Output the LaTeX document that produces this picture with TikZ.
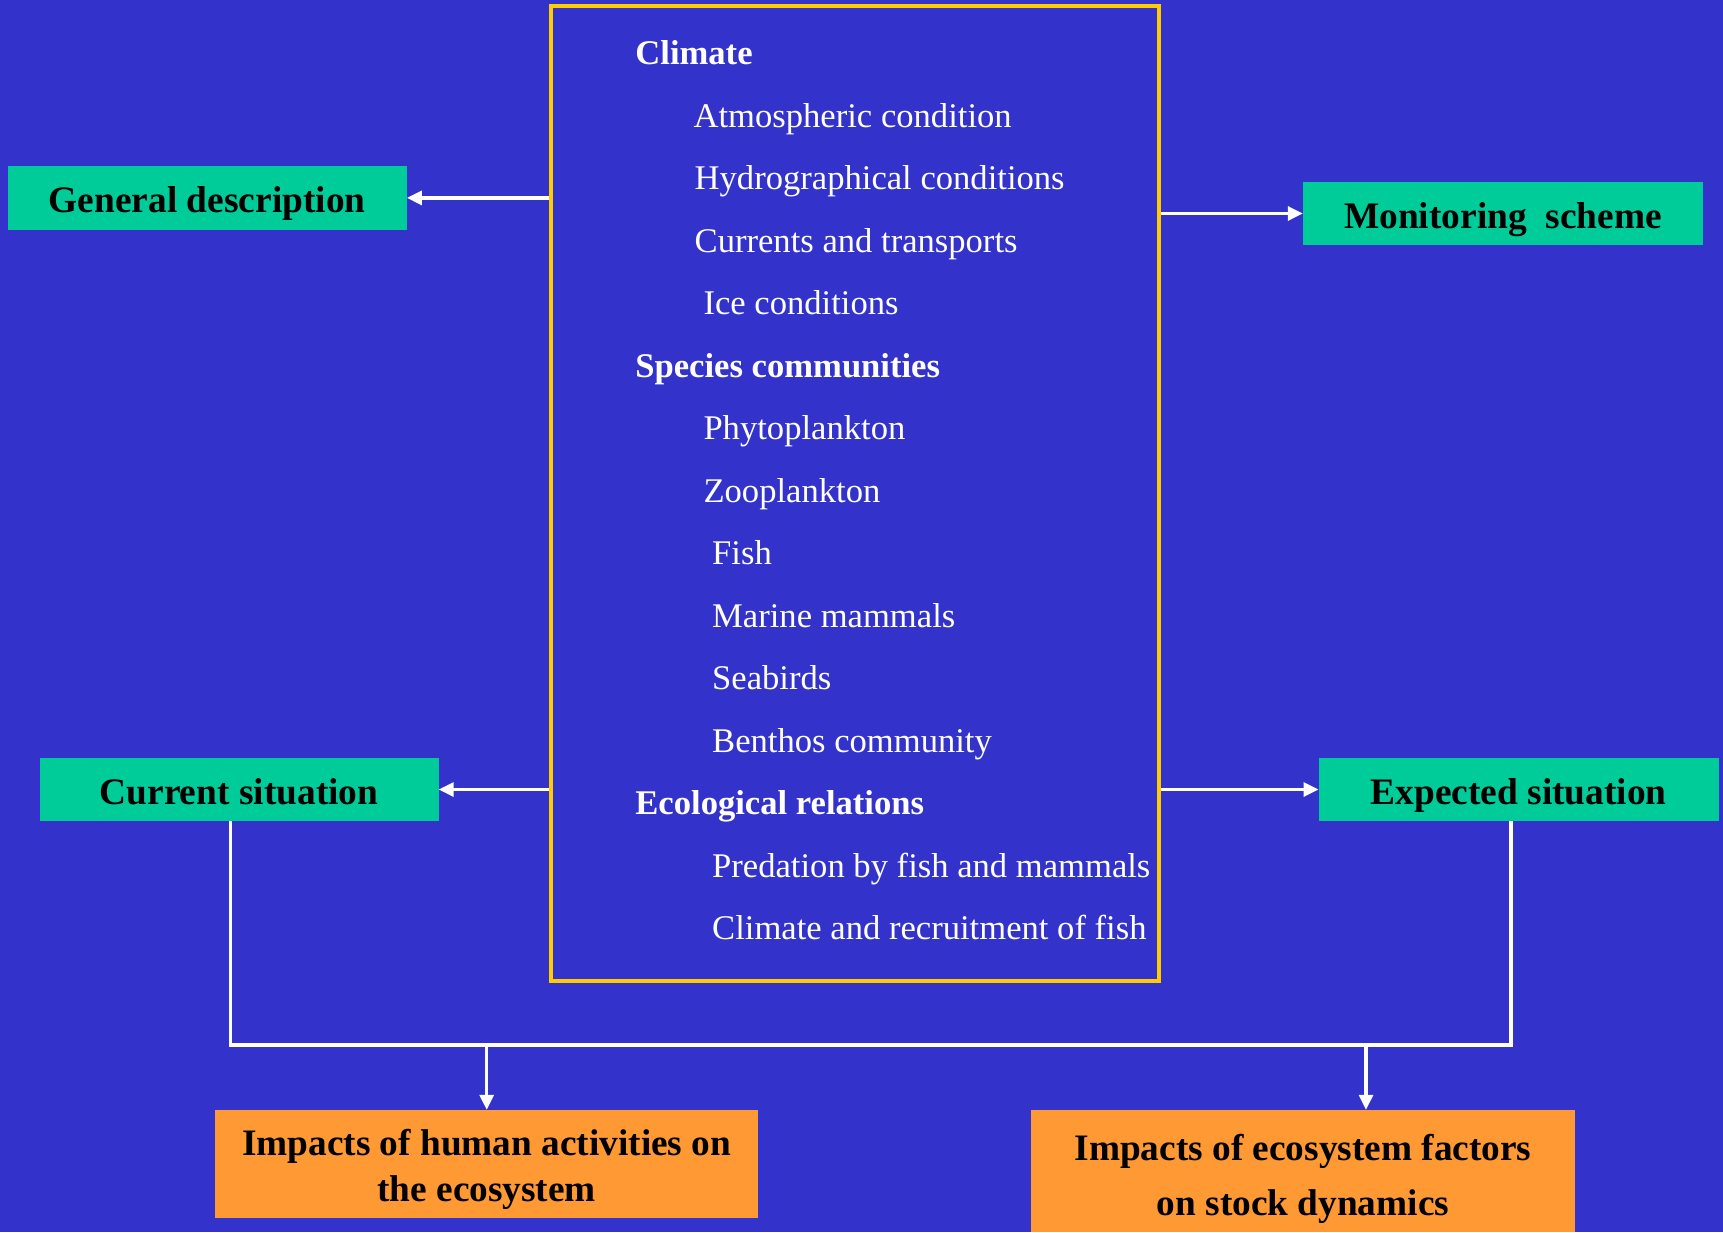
\documentclass[tikz,border=0pt]{standalone}
\usepackage{fontspec}
\setmainfont{Liberation Serif}
\usetikzlibrary{arrows.meta}
\definecolor{bgblue}{HTML}{3333CC}
\definecolor{boxgreen}{HTML}{00CC99}
\definecolor{boxorange}{HTML}{FF9933}
\definecolor{frameyellow}{HTML}{FFCC00}
\tikzset{
  greenbox/.style={fill=boxgreen, inner sep=0pt, text=black,
    text height=32pt, text depth=3pt,
    font=\fontsize{37.4}{44}\selectfont\bfseries},
  orangebox/.style={fill=boxorange, inner sep=0pt},
  orangetext/.style={inner sep=0pt, text=black, align=center,
    font=\fontsize{37.3}{46}\selectfont\bfseries},
  item/.style={anchor=base west, inner sep=0pt, text=white,
    font=\fontsize{34.6}{40}\selectfont},
  head/.style={item, font=\fontsize{34.6}{40}\selectfont\bfseries},
  wline/.style={draw=white, line width=3.2pt},
  warrow/.style={wline, -{Triangle[length=15pt,width=14pt]}}
}
\begin{document}
\begin{tikzpicture}[x=1pt,y=-1pt]
\fill[bgblue] (0,0) rectangle (1723,1232);
\useasboundingbox (0,0) rectangle (1723,1232);
% central frame
\node[draw=frameyellow, line width=3.8pt, minimum width=608pt, minimum height=975pt, inner sep=0pt] (frame) at (855,493.2) {};
% central texts
\node[head] (t1) at (635.2,64.7) {Climate};
\node[item] (t2) at (693.4,127.2) {Atmospheric condition};
\node[item] (t3) at (694.5,189.7) {Hydrographical conditions};
\node[item] (t4) at (694.5,252.2) {Currents and transports};
\node[item] (t5) at (703.3,314.7) {Ice conditions};
\node[head] (t6) at (635.2,377.2) {Species communities};
\node[item] (t7) at (703.3,439.7) {Phytoplankton};
\node[item] (t8) at (703.3,502.2) {Zooplankton};
\node[item] (t9) at (712,564.7) {Fish};
\node[item] (t10) at (712,627.2) {Marine mammals};
\node[item] (t11) at (712,689.7) {Seabirds};
\node[item] (t12) at (712,752.2) {Benthos community};
\node[head] (t13) at (635.2,814.7) {Ecological relations};
\node[item] (t14) at (712,877.2) {Predation by fish and mammals};
\node[item] (t15) at (712,939.7) {Climate and recruitment of fish};
% side boxes
\node[greenbox, minimum width=399pt, minimum height=64pt] (gd) at (207.2,197.9) {General description};
\node[greenbox, minimum width=400pt, minimum height=63pt] (ms) at (1503,213.5) {Monitoring\ \ scheme};
\node[greenbox, minimum width=399pt, minimum height=63pt] (cs) at (239,789.5) {Current situation};
\node[greenbox, minimum width=400pt, minimum height=63pt] (es) at (1518.7,789.5) {Expected situation};
% bottom boxes
\node[orangebox, minimum width=543pt, minimum height=108pt] (ih) at (486.7,1164) {};
\node[orangetext] (iht) at ([yshift=-5.5pt]ih.center) {Impacts of human activities on\\the ecosystem};
\node[orangebox, minimum width=544pt, minimum height=122pt] (ie) at (1303,1171) {};
\node[orangetext, font=\fontsize{37.3}{55}\selectfont\bfseries] (iet) at ([yshift=-7.5pt]ie.center) {Impacts of ecosystem factors\\on stock dynamics};
% arrows from frame
\draw[warrow] (frame.west |- gd.east) -- (gd.east);
\draw[warrow] (frame.east |- ms.west) -- (ms.west);
\draw[warrow] (frame.west |- cs.east) -- (cs.east);
\draw[warrow] (frame.east |- es.west) -- (es.west);
% bottom connector
\coordinate (jl) at (230.8,1045);
\coordinate (jr) at (1511,1045);
\coordinate (al) at (486.7,1045);
\coordinate (ar) at (1366,1045);
\draw[wline, line join=miter] (cs.south -| jl) -- (jl) -- (jr) -- (es.south -| jr);
\draw[warrow] (al) -- (al |- ih.north);
\draw[warrow] (ar) -- (ar |- ie.north);
\end{tikzpicture}
\end{document}
